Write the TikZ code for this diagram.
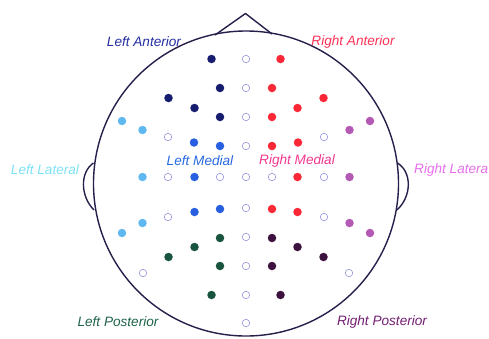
\documentclass[tikz,border=0pt]{standalone}
\usepackage{fontspec}
\setmainfont{Liberation Sans}
\definecolor{headc}{RGB}{40,30,75}
\definecolor{ring}{RGB}{150,150,220}
\definecolor{cNavy}{RGB}{22,28,110}
\definecolor{cBlue}{RGB}{40,95,225}
\definecolor{cLight}{RGB}{95,185,240}
\definecolor{cGreen}{RGB}{25,85,62}
\definecolor{cRed}{RGB}{250,40,55}
\definecolor{cPurple}{RGB}{180,90,180}
\definecolor{cDark}{RGB}{62,18,62}
\definecolor{tLA}{RGB}{35,45,160}
\definecolor{tRA}{RGB}{250,50,85}
\definecolor{tLM}{RGB}{40,105,225}
\definecolor{tRM}{RGB}{240,55,145}
\definecolor{tLL}{RGB}{125,225,245}
\definecolor{tRL}{RGB}{230,110,235}
\definecolor{tLP}{RGB}{30,100,72}
\definecolor{tRP}{RGB}{115,30,115}
\begin{document}
\begin{tikzpicture}[x=1pt,y=-1pt,
  head/.style={draw=headc, line width=1.4pt, line join=round},
  dot/.style={circle, inner sep=0pt, minimum size=8.5pt, draw=none},
  opendot/.style={circle, inner sep=0pt, minimum size=7.5pt, draw=ring, line width=0.6pt},
  lbl/.style={inner sep=0pt, font=\fontsize{13.6}{16}\selectfont\itshape}]
\useasboundingbox (0,0) rectangle (489,338);
% head
\draw[head] (246,183.5) circle (152.5pt);
\draw[head] (215,35) -- (245.5,13.5) -- (272,34);
\draw[head] (93.5,163) .. controls (80,172) and (80,196) .. (94,210);
\draw[head] (397.5,163) .. controls (412,172) and (412,196) .. (397,210);
% coloured electrodes, mirrored left/right
\foreach \dx/\y/\cl/\cr [count=\i] in {
  34.5/59/cNavy/cRed, 26/88/cNavy/cRed, 77.5/98/cNavy/cRed, 51.5/108/cNavy/cRed, 26/117/cNavy/cRed,
  124/121/cLight/cPurple, 103.5/130/cLight/cPurple, 103.5/177/cLight/cPurple, 103.5/223/cLight/cPurple, 124/233/cLight/cPurple,
  52/142.5/cBlue/cRed, 26/146/cBlue/cRed, 51.5/177/cBlue/cRed, 51.5/212/cBlue/cRed, 26/209/cBlue/cRed,
  26/238/cGreen/cDark, 51.5/247/cGreen/cDark, 77.5/257/cGreen/cDark, 26/266/cGreen/cDark, 34.5/295/cGreen/cDark}
{
  \node[dot, fill=\cl] (L\i) at (246-\dx,\y) {};
  \node[dot, fill=\cr] (R\i) at (246+\dx,\y) {};
}
% open electrodes
\foreach \dx/\y [count=\i] in {78/137, 78/177, 26/177, 78/217, 103/273}
{
  \node[opendot] (OL\i) at (246-\dx,\y) {};
  \node[opendot] (OR\i) at (246+\dx,\y) {};
}
\foreach \y [count=\i] in {59,88,117,146,177,208,237,266,295,323}
  \node[opendot] (OC\i) at (246,\y) {};
% labels
\node[lbl, text=tLA] (tLA) at (144,42) {Left Anterior};
\node[lbl, text=tRA] (tRA) at (353,42) {Right Anterior};
\node[lbl, text=tLM] (tLM) at (200,161) {Left Medial};
\node[lbl, text=tRM] (tRM) at (297,161) {Right Medial};
\node[lbl, text=tLL] (tLL) at (45,170) {Left Lateral};
\node[lbl, text=tRL, anchor=west] (tRL) at (414,170) {Right Latera};
\node[lbl, text=tLP] (tLP) at (118,322) {Left Posterior};
\node[lbl, text=tRP] (tRP) at (382,322) {Right Posterior};
\end{tikzpicture}
\end{document}
